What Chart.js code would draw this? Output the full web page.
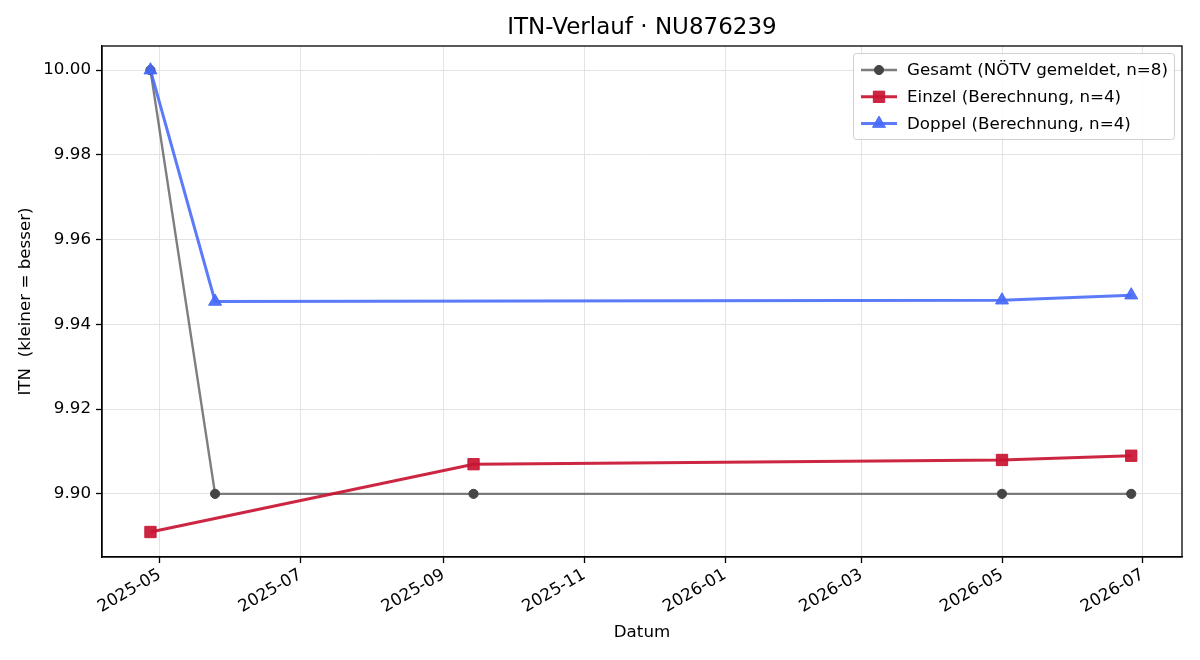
<!DOCTYPE html>
<html>
<head>
<meta charset="utf-8">
<script src="https://cdn.jsdelivr.net/npm/chart.js@4/dist/chart.umd.min.js"></script>
<style>
  html, body { margin: 0; padding: 0; background: #fff; }
  #wrap { width: 1200px; height: 660px; }
</style>
</head>
<body>
<div id="wrap"><canvas id="itn-chart"></canvas></div>
<script>
const chartTitle = 'ITN-Verlauf · NU876239';
const xTitle = 'Datum';
const yTitle = 'ITN  (kleiner = besser)';

const gesamtLabel = 'Gesamt (NÖTV gemeldet, n=8)';
const gesamtDates = ['2025-04-27', '2025-05-25', '2025-09-14', '2026-05-01', '2026-06-26'];
const gesamtValues = [10.00, 9.90, 9.90, 9.90, 9.90];

const einzelLabel = 'Einzel (Berechnung, n=4)';
const einzelDates = ['2025-04-27', '2025-09-14', '2026-05-01', '2026-06-26'];
const einzelValues = [9.891, 9.907, 9.908, 9.909];

const doppelLabel = 'Doppel (Berechnung, n=4)';
const doppelDates = ['2025-04-27', '2025-05-25', '2026-05-01', '2026-06-26'];
const doppelValues = [10.00, 9.9454, 9.9457, 9.9469];

const xTickDates = ['2025-05-01', '2025-07-01', '2025-09-01', '2025-11-01', '2026-01-01', '2026-03-01', '2026-05-01', '2026-07-01'];
const xRange = ['2025-04-06', '2026-07-18'];
const yTicks = [9.90, 9.92, 9.94, 9.96, 9.98, 10.00];
const yRange = [9.8851, 10.0057];

const FONT = '"DejaVu Sans", sans-serif';

// dates -> day numbers for the linear x scale
const toDay = s => {
  const [y, m, d] = s.split('-').map(Number);
  return Date.UTC(y, m - 1, d) / 86400000;
};
const dayLabel = v => {
  const dt = new Date(v * 86400000);
  return dt.getUTCFullYear() + '-' + String(dt.getUTCMonth() + 1).padStart(2, '0');
};
const points = (dates, vals) => dates.map((d, i) => ({ x: toDay(d), y: vals[i] }));

const series = [
  { label: gesamtLabel, data: points(gesamtDates, gesamtValues), line: 'rgba(90,90,90,0.78)', fill: '#454545', style: 'circle', r: 4.6, lw: 2.4, order: 3 },
  { label: einzelLabel, data: points(einzelDates, einzelValues), line: 'rgba(200,20,50,0.92)', fill: 'rgba(200,20,50,0.92)', style: 'rect', r: 8, lw: 3, order: 2 },
  { label: doppelLabel, data: points(doppelDates, doppelValues), line: 'rgba(70,105,248,0.88)', fill: 'rgba(70,105,248,0.92)', style: 'triangle', r: 7.5, lw: 3, order: 1 }
];

const bgPlugin = {
  id: 'bg',
  beforeDraw(chart) {
    const ctx = chart.ctx;
    ctx.save();
    ctx.fillStyle = '#fff';
    ctx.fillRect(0, 0, chart.width, chart.height);
    ctx.restore();
  }
};

// title + full frame round the plot
const framePlugin = {
  id: 'frame',
  afterDraw(chart) {
    const ctx = chart.ctx;
    const a = chart.chartArea;
    ctx.save();
    ctx.strokeStyle = '#000';
    ctx.lineWidth = 1.3;
    ctx.strokeRect(a.left, a.top, a.right - a.left, a.bottom - a.top);
    ctx.fillStyle = '#000';
    ctx.font = '23px ' + FONT;
    ctx.textAlign = 'center';
    ctx.textBaseline = 'middle';
    ctx.fillText(chartTitle, (a.left + a.right) / 2, 28);
    ctx.restore();
  }
};

const legendPlugin = {
  id: 'boxLegend',
  afterDatasetsDraw(chart) {
    const ctx = chart.ctx;
    const a = chart.chartArea;
    const w = 321, h = 86;
    const x0 = a.right - 8 - w, y0 = a.top + 7;
    ctx.save();
    ctx.fillStyle = 'rgba(255,255,255,0.85)';
    ctx.strokeStyle = '#d0d0d0';
    ctx.lineWidth = 1;
    ctx.beginPath();
    ctx.roundRect(x0 + 0.5, y0 + 0.5, w, h, 3);
    ctx.fill();
    ctx.stroke();
    ctx.font = '16.7px ' + FONT;
    ctx.textBaseline = 'middle';
    series.forEach((s, i) => {
      const yy = y0 + 17 + i * 26.8;
      ctx.strokeStyle = s.line;
      ctx.lineWidth = s.lw;
      ctx.beginPath();
      ctx.moveTo(x0 + 8, yy);
      ctx.lineTo(x0 + 44, yy);
      ctx.stroke();
      ctx.fillStyle = s.fill;
      ctx.strokeStyle = s.fill;
      ctx.lineWidth = 1;
      Chart.helpers.drawPoint(ctx, { pointStyle: s.style, radius: s.r, borderWidth: 1 }, x0 + 26, yy);
      ctx.fillStyle = '#000';
      ctx.fillText(s.label, x0 + 54, yy + 1);
    });
    ctx.restore();
  }
};

new Chart(document.getElementById('itn-chart'), {
  type: 'line',
  data: {
    datasets: series.map(s => ({
      label: s.label,
      data: s.data,
      borderColor: s.line,
      borderWidth: s.lw,
      backgroundColor: s.fill,
      pointStyle: s.style,
      pointRadius: s.r,
      pointHoverRadius: s.r,
      pointBackgroundColor: s.fill,
      pointBorderColor: s.fill,
      pointBorderWidth: 1,
      tension: 0,
      fill: false,
      order: s.order
    }))
  },
  options: {
    responsive: true,
    maintainAspectRatio: false,
    animation: false,
    devicePixelRatio: 1,
    layout: { padding: { top: 46, right: 18, left: 0, bottom: 0 } },
    plugins: {
      legend: { display: false },
      title: { display: false },
      tooltip: { enabled: false }
    },
    scales: {
      x: {
        type: 'linear',
        min: toDay(xRange[0]),
        max: toDay(xRange[1]),
        afterBuildTicks: scale => { scale.ticks = xTickDates.map(d => ({ value: toDay(d) })); },
        afterFit: scale => { scale.height = 103; },
        border: { color: '#000', width: 1.3 },
        grid: { color: '#e3e3e3', lineWidth: 1, tickLength: 6, tickColor: '#000', tickWidth: 1.3 },
        ticks: {
          callback: v => dayLabel(v),
          minRotation: 30,
          maxRotation: 30,
          color: '#000',
          font: { family: FONT, size: 16.7 },
          padding: 2,
          autoSkip: false
        },
        title: { display: true, text: xTitle, color: '#000', font: { family: FONT, size: 16.7 }, padding: { top: 0, bottom: 17 } }
      },
      y: {
        min: yRange[0],
        max: yRange[1],
        afterBuildTicks: scale => { scale.ticks = yTicks.map(v => ({ value: v })); },
        afterFit: scale => { scale.width = 102; },
        border: { color: '#000', width: 1.3 },
        grid: { color: '#e3e3e3', lineWidth: 1, tickLength: 6, tickColor: '#000', tickWidth: 1.3 },
        ticks: {
          callback: v => Number(v).toFixed(2),
          color: '#000',
          font: { family: FONT, size: 16.7 },
          padding: 5
        },
        title: { display: true, text: yTitle, color: '#000', font: { family: FONT, size: 16.7 }, padding: { top: 16, bottom: 0 } }
      }
    }
  },
  plugins: [bgPlugin, framePlugin, legendPlugin]
});
</script>
</body>
</html>
